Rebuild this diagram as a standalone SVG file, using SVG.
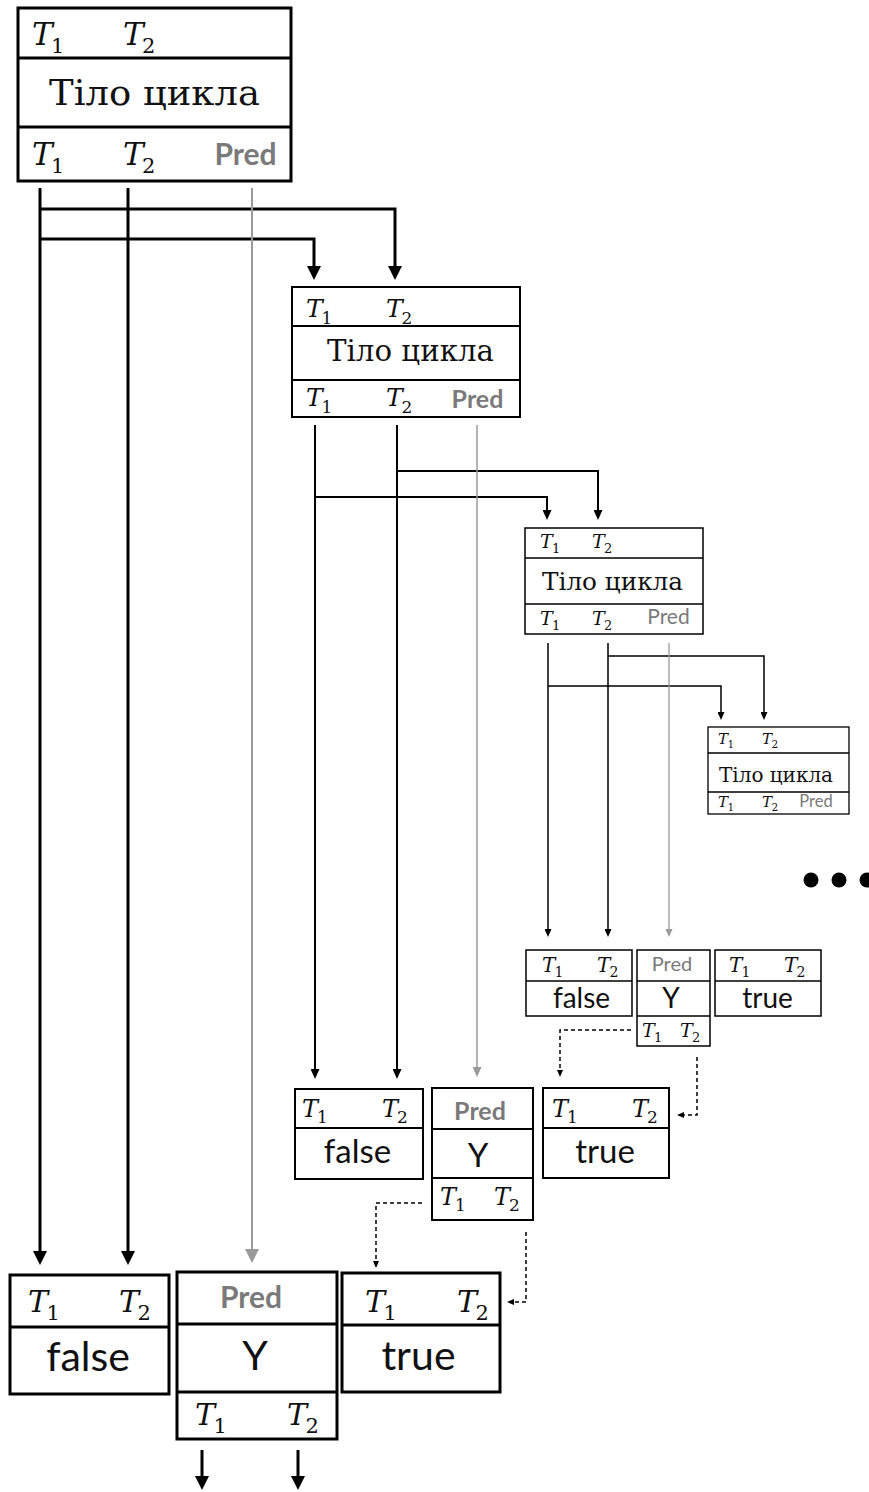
<svg xmlns="http://www.w3.org/2000/svg" width="869" height="1492" viewBox="0 0 869 1492">
<style>
  .bx{fill:#fff;stroke:#000}
  .w1{stroke-width:3}
  .w2{stroke-width:2}
  .w3{stroke-width:1.5}
  .w4{stroke-width:1.3}
  .dv{stroke:#000;fill:none}
  .c{fill:none;stroke:#000;stroke-linejoin:miter}
  .g{fill:none;stroke:#9a9a9a}
  .d{fill:none;stroke:#000;stroke-width:1.5;stroke-dasharray:4 3}
  .var{font-family:"DejaVu Serif","Liberation Serif",serif;font-style:italic;fill:#111}
  .var tspan{font-style:normal}
  .body{font-family:"DejaVu Serif","Liberation Serif",serif;fill:#111;text-anchor:middle}
  .sans{font-family:Lato,"Liberation Sans",sans-serif;fill:#111;text-anchor:middle}
  .pred{font-family:Lato,"Liberation Sans",sans-serif;fill:#7a7a7a;text-anchor:middle}
  .bold{font-weight:bold}
</style>
<defs>
  <marker id="mk-l" markerUnits="userSpaceOnUse" markerWidth="14" markerHeight="14" refX="1" refY="7" orient="auto"><path d="M0,0 L14,7 L0,14 z" fill="#000"/></marker>
  <marker id="mk-lg" markerUnits="userSpaceOnUse" markerWidth="14" markerHeight="14" refX="1" refY="7" orient="auto"><path d="M0,0 L14,7 L0,14 z" fill="#9a9a9a"/></marker>
  <marker id="mk-m" markerUnits="userSpaceOnUse" markerWidth="10" markerHeight="9" refX="1" refY="4.5" orient="auto"><path d="M0,0 L10,4.5 L0,9 z" fill="#000"/></marker>
  <marker id="mk-mg" markerUnits="userSpaceOnUse" markerWidth="10" markerHeight="9" refX="1" refY="4.5" orient="auto"><path d="M0,0 L10,4.5 L0,9 z" fill="#9a9a9a"/></marker>
  <marker id="mk-s" markerUnits="userSpaceOnUse" markerWidth="8" markerHeight="7" refX="1" refY="3.5" orient="auto"><path d="M0,0 L8,3.5 L0,7 z" fill="#000"/></marker>
  <marker id="mk-sg" markerUnits="userSpaceOnUse" markerWidth="8" markerHeight="7" refX="1" refY="3.5" orient="auto"><path d="M0,0 L8,3.5 L0,7 z" fill="#9a9a9a"/></marker>
  <marker id="mk-d" markerUnits="userSpaceOnUse" markerWidth="7" markerHeight="6" refX="1" refY="3" orient="auto"><path d="M0,0 L7,3 L0,6 z" fill="#000"/></marker>
</defs>
<rect width="869" height="1492" fill="#fff"/>

<g id="connectors">
  <!-- outer loop outputs -->
  <path class="c w1" d="M40,188 V1252" marker-end="url(#mk-l)"/>
  <path class="c w1" d="M128,188 V1252" marker-end="url(#mk-l)"/>
  <path class="c w1" d="M40,209 H395 V267" marker-end="url(#mk-l)"/>
  <path class="c w1" d="M40,239 H314 V267" marker-end="url(#mk-l)"/>
  <path class="g" stroke-width="2" d="M252,188 V1250" marker-end="url(#mk-lg)"/>
  <path class="c w1" d="M202,1450 V1477" marker-end="url(#mk-l)"/>
  <path class="c w1" d="M298,1450 V1477" marker-end="url(#mk-l)"/>
  <!-- second iteration -->
  <path class="c w2" d="M315,425 V1070" marker-end="url(#mk-m)"/>
  <path class="c w2" d="M397,425 V1070" marker-end="url(#mk-m)"/>
  <path class="c w2" d="M397,471 H598 V511" marker-end="url(#mk-m)"/>
  <path class="c w2" d="M315,497 H547 V511" marker-end="url(#mk-m)"/>
  <path class="g" stroke-width="1.5" d="M477,425 V1068" marker-end="url(#mk-mg)"/>
  <!-- third iteration -->
  <path class="c w3" d="M548,643 V930" marker-end="url(#mk-s)"/>
  <path class="c w3" d="M608,643 V930" marker-end="url(#mk-s)"/>
  <path class="c w3" d="M608,656 H764 V713" marker-end="url(#mk-s)"/>
  <path class="c w3" d="M548,686 H721 V713" marker-end="url(#mk-s)"/>
  <path class="g" stroke-width="1.3" d="M669,643 V930" marker-end="url(#mk-sg)"/>
  <!-- results handed back up -->
  <path class="d" d="M631,1030 H560 V1071" marker-end="url(#mk-d)"/>
  <path class="d" d="M697,1057 V1115 H683" marker-end="url(#mk-d)"/>
  <path class="d" d="M422,1203 H376 V1262" marker-end="url(#mk-d)"/>
  <path class="d" d="M526,1232 V1302 H513" marker-end="url(#mk-d)"/>
</g>

<g id="loop-1">
  <rect class="bx w1" x="18" y="8" width="273" height="173"/>
  <path class="dv w1" d="M18,58 H291 M18,127 H291"/>
  <text class="var" font-size="31" x="32" y="45">T<tspan font-size="21" x="51" y="53">1</tspan></text>
  <text class="var" font-size="31" x="123" y="45">T<tspan font-size="21" x="142" y="53">2</tspan></text>
  <text class="body" font-size="36" x="154.5" y="105" textLength="211" lengthAdjust="spacingAndGlyphs">Тіло цикла</text>
  <text class="var" font-size="31" x="32" y="165">T<tspan font-size="21" x="51" y="173">1</tspan></text>
  <text class="var" font-size="31" x="123" y="165">T<tspan font-size="21" x="142" y="173">2</tspan></text>
  <text class="pred bold" font-size="30" x="245.5" y="165">Pred</text>
</g>

<g id="loop-2">
  <rect class="bx w2" x="292" y="287" width="228" height="130"/>
  <path class="dv w2" d="M292,326 H520 M292,380 H520"/>
  <text class="var" font-size="25" x="306" y="317">T<tspan font-size="17" x="321.5" y="324">1</tspan></text>
  <text class="var" font-size="25" x="386" y="317">T<tspan font-size="17" x="401.5" y="324">2</tspan></text>
  <text class="body" font-size="29" x="410.5" y="361" textLength="167" lengthAdjust="spacingAndGlyphs">Тіло цикла</text>
  <text class="var" font-size="25" x="306" y="406">T<tspan font-size="17" x="321.5" y="413">1</tspan></text>
  <text class="var" font-size="25" x="386" y="406">T<tspan font-size="17" x="401.5" y="413">2</tspan></text>
  <text class="pred bold" font-size="25" x="477.5" y="408">Pred</text>
</g>

<g id="loop-3">
  <rect class="bx w3" x="525" y="528" width="178" height="106"/>
  <path class="dv w3" d="M525,558 H703 M525,604 H703"/>
  <text class="var" font-size="19" x="540" y="548">T<tspan font-size="13" x="552" y="553">1</tspan></text>
  <text class="var" font-size="19" x="592" y="548">T<tspan font-size="13" x="604" y="553">2</tspan></text>
  <text class="body" font-size="24" x="612.5" y="590" textLength="141" lengthAdjust="spacingAndGlyphs">Тіло цикла</text>
  <text class="var" font-size="19" x="540" y="625">T<tspan font-size="13" x="552" y="630">1</tspan></text>
  <text class="var" font-size="19" x="592" y="625">T<tspan font-size="13" x="604" y="630">2</tspan></text>
  <text class="pred" font-size="21" x="668.5" y="624">Pred</text>
</g>

<g id="loop-4">
  <rect class="bx w4" x="708" y="727" width="141" height="87"/>
  <path class="dv w4" d="M708,753 H849 M708,792 H849"/>
  <text class="var" font-size="15" x="718" y="744">T<tspan font-size="10.5" x="727.5" y="748">1</tspan></text>
  <text class="var" font-size="15" x="762" y="744">T<tspan font-size="10.5" x="771.5" y="748">2</tspan></text>
  <text class="body" font-size="19.5" x="776" y="782" textLength="114" lengthAdjust="spacingAndGlyphs">Тіло цикла</text>
  <text class="var" font-size="15" x="718" y="807">T<tspan font-size="10.5" x="727.5" y="811">1</tspan></text>
  <text class="var" font-size="15" x="762" y="807">T<tspan font-size="10.5" x="771.5" y="811">2</tspan></text>
  <text class="pred" font-size="16.5" x="816" y="807">Pred</text>
</g>

<g id="more">
  <circle cx="811" cy="880" r="7.5" fill="#000"/>
  <circle cx="839" cy="880" r="7.5" fill="#000"/>
  <circle cx="867" cy="880" r="7.5" fill="#000"/>
</g>

<!-- results of the third iteration -->
<g id="false-3">
  <rect class="bx w3" x="526" y="950" width="106" height="66"/>
  <path class="dv w3" d="M526,981 H632"/>
  <text class="var" font-size="20" x="542" y="972">T<tspan font-size="14" x="554.5" y="977">1</tspan></text>
  <text class="var" font-size="20" x="597" y="972">T<tspan font-size="14" x="609.5" y="977">2</tspan></text>
  <text class="sans" font-size="28" x="581.5" y="1008">false</text>
</g>
<g id="select-3">
  <rect class="bx w3" x="637" y="950" width="73" height="96"/>
  <path class="dv w3" d="M637,981 H710 M637,1016 H710"/>
  <text class="pred" font-size="20" x="672" y="971">Pred</text>
  <text class="sans" font-size="28" x="671" y="1008">Y</text>
  <text class="var" font-size="19" x="642" y="1037">T<tspan font-size="13" x="654" y="1042">1</tspan></text>
  <text class="var" font-size="19" x="680" y="1037">T<tspan font-size="13" x="692" y="1042">2</tspan></text>
</g>
<g id="true-3">
  <rect class="bx w3" x="715" y="950" width="106" height="66"/>
  <path class="dv w3" d="M715,981 H821"/>
  <text class="var" font-size="20" x="729" y="972">T<tspan font-size="14" x="741.5" y="977">1</tspan></text>
  <text class="var" font-size="20" x="784" y="972">T<tspan font-size="14" x="796.5" y="977">2</tspan></text>
  <text class="sans" font-size="28" x="767.5" y="1008">true</text>
</g>

<!-- results of the second iteration -->
<g id="false-2">
  <rect class="bx w2" x="295" y="1089" width="128" height="90"/>
  <path class="dv w2" d="M295,1128 H423"/>
  <text class="var" font-size="24" x="302" y="1117">T<tspan font-size="17" x="317" y="1123">1</tspan></text>
  <text class="var" font-size="24" x="382" y="1117">T<tspan font-size="17" x="397" y="1123">2</tspan></text>
  <text class="sans" font-size="33" x="357.5" y="1163">false</text>
</g>
<g id="select-2">
  <rect class="bx w2" x="432" y="1088" width="101" height="132"/>
  <path class="dv w2" d="M432,1129 H533 M432,1178 H533"/>
  <text class="pred bold" font-size="25" x="480" y="1120">Pred</text>
  <text class="sans" font-size="33" x="478" y="1167">Y</text>
  <text class="var" font-size="24" x="440" y="1205">T<tspan font-size="17" x="455" y="1211">1</tspan></text>
  <text class="var" font-size="24" x="494" y="1205">T<tspan font-size="17" x="509" y="1211">2</tspan></text>
</g>
<g id="true-2">
  <rect class="bx w2" x="543" y="1088" width="126" height="90"/>
  <path class="dv w2" d="M543,1128 H669"/>
  <text class="var" font-size="24" x="552" y="1117">T<tspan font-size="17" x="567" y="1123">1</tspan></text>
  <text class="var" font-size="24" x="632" y="1117">T<tspan font-size="17" x="647" y="1123">2</tspan></text>
  <text class="sans" font-size="33" x="605" y="1163">true</text>
</g>

<!-- results of the first iteration -->
<g id="false-1">
  <rect class="bx w1" x="10" y="1275" width="159" height="119"/>
  <path class="dv w1" d="M10,1327 H169"/>
  <text class="var" font-size="30" x="28" y="1312">T<tspan font-size="21" x="46.5" y="1320">1</tspan></text>
  <text class="var" font-size="30" x="119" y="1312">T<tspan font-size="21" x="137.5" y="1320">2</tspan></text>
  <text class="sans" font-size="41" x="88" y="1371">false</text>
</g>
<g id="select-1">
  <rect class="bx w1" x="177" y="1272" width="160" height="167"/>
  <path class="dv w1" d="M177,1324 H337 M177,1392 H337"/>
  <text class="pred bold" font-size="30" x="251" y="1308">Pred</text>
  <text class="sans" font-size="41" x="255" y="1370">Y</text>
  <text class="var" font-size="30" x="195" y="1425">T<tspan font-size="21" x="213.5" y="1433">1</tspan></text>
  <text class="var" font-size="30" x="287" y="1425">T<tspan font-size="21" x="305.5" y="1433">2</tspan></text>
</g>
<g id="true-1">
  <rect class="bx w1" x="342" y="1273" width="158" height="119"/>
  <path class="dv w1" d="M342,1325 H500"/>
  <text class="var" font-size="30" x="365" y="1312">T<tspan font-size="21" x="383.5" y="1320">1</tspan></text>
  <text class="var" font-size="30" x="457" y="1312">T<tspan font-size="21" x="475.5" y="1320">2</tspan></text>
  <text class="sans" font-size="41" x="418.5" y="1370">true</text>
</g>
</svg>
